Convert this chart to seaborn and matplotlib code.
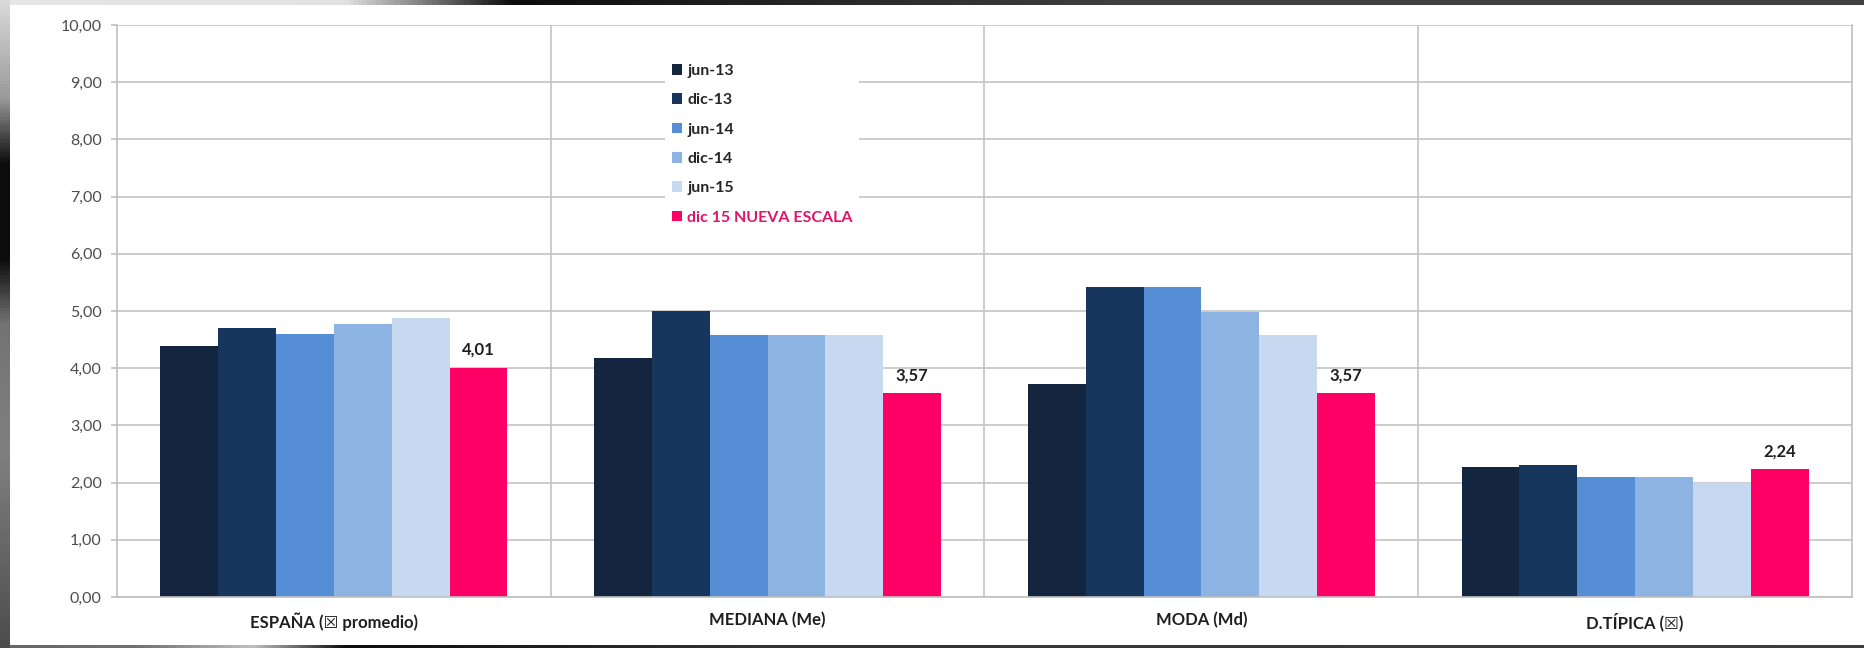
import numpy as np
import pandas as pd
import matplotlib
matplotlib.use("Agg")
import matplotlib.pyplot as plt
import seaborn as sns
from matplotlib.patches import Rectangle

# datos
categorias = ["ESPAÑA (☒ promedio)", "MEDIANA (Me)", "MODA (Md)", "D.TÍPICA (☒)"]
periodos = ["jun-13", "dic-13", "jun-14", "dic-14", "jun-15", "dic 15 NUEVA ESCALA"]
jun13 = [4.38, 4.17, 3.73, 2.28]
dic13 = [4.70, 5.00, 5.42, 2.30]
jun14 = [4.60, 4.58, 5.42, 2.09]
dic14 = [4.78, 4.58, 4.99, 2.10]
jun15 = [4.88, 4.58, 4.58, 2.00]
dic15 = [4.01, 3.57, 3.57, 2.24]
colores = ["#13253f", "#17365d", "#558ed5", "#8db3e2", "#c6d9f1", "#ff0066"]
yticks = [0, 1, 2, 3, 4, 5, 6, 7, 8, 9, 10]

series = [jun13, dic13, jun14, dic14, jun15, dic15]
df = pd.DataFrame({
    "categoria": np.tile(categorias, len(periodos)),
    "periodo": np.repeat(periodos, len(categorias)),
    "valor": np.concatenate(series),
})

sns.set_style("white")
plt.rcParams["font.family"] = ["Lato", "DejaVu Sans"]

fig = plt.figure(figsize=(18.65, 6.48), dpi=100, facecolor="#3c3c3c")

# fondo: marco oscuro alrededor del panel blanco
fig.patches.append(Rectangle((10 / 1865, 3 / 648), 1, 640 / 648, transform=fig.transFigure,
                             facecolor="white", edgecolor="none", zorder=-10))
left_strip = fig.add_axes([0, 0, 10 / 1865, 1])
grad_y = np.interp(np.linspace(0, 1, 200), [0, 0.15, 0.25, 0.4, 0.5, 0.7, 1.0],
                   [0.85, 0.6, 0.05, 0.05, 0.45, 0.5, 0.3])
left_strip.imshow(grad_y[:, None], cmap="gray", vmin=0, vmax=1, aspect="auto")
left_strip.axis("off")
top_strip = fig.add_axes([10 / 1865, 643 / 648, 1 - 10 / 1865, 5 / 648])
grad_x = np.interp(np.linspace(0, 1, 400), [0, 0.18, 0.27, 0.6, 1.0], [0.9, 0.88, 0.05, 0.25, 0.25])
top_strip.imshow(grad_x[None, :], cmap="gray", vmin=0, vmax=1, aspect="auto")
top_strip.axis("off")
bot_strip = fig.add_axes([10 / 1865, 0, 1 - 10 / 1865, 3 / 648])
grad_b = np.interp(np.linspace(0, 1, 400), [0, 0.07, 0.13, 0.18, 0.4, 1.0], [0.4, 0.45, 0.75, 0.05, 0.2, 0.25])
bot_strip.imshow(grad_b[None, :], cmap="gray", vmin=0, vmax=1, aspect="auto")
bot_strip.axis("off")

ax = fig.add_axes([117 / 1865, 51 / 648, 1735 / 1865, 572 / 648])
ax.set_facecolor("white")

sns.barplot(data=df, x="categoria", y="valor", hue="periodo", order=categorias,
            hue_order=periodos, palette=colores, saturation=1, width=0.8,
            errorbar=None, linewidth=0, edgecolor="none", ax=ax)

ax.set_ylim(0, 10)
ax.set_xlim(-0.5, 3.5)
ax.set_yticks(yticks)
ax.set_yticklabels([f"{v:.2f}".replace(".", ",") for v in yticks])
ax.set_xlabel("")
ax.set_ylabel("")

ax.set_xticks([0.5, 1.5, 2.5], minor=True)
ax.set_axisbelow(True)
ax.grid(True, axis="y", color="#c4c4c4", lw=1.2)
ax.grid(True, axis="x", which="minor", color="#c4c4c4", lw=1.2)
ax.grid(False, axis="x", which="major")

for s in ["left", "bottom", "right"]:
    ax.spines[s].set_color("#bfbfbf")
    ax.spines[s].set_linewidth(1.2)
ax.spines["top"].set_visible(False)

ax.tick_params(axis="y", length=4, width=1.2, color="#bfbfbf", pad=7,
               labelsize=11.5, labelcolor="#4d4d4d", left=True)
ax.tick_params(axis="x", which="both", length=0, pad=11, labelsize=12, labelcolor="#1f1f1f")
for t in ax.get_xticklabels():
    t.set_fontweight("bold")

# etiqueta de datos solo en la serie nueva
ult = ax.containers[-1]
ax.bar_label(ult, labels=[f"{v:.2f}".replace(".", ",") for v in dic15], padding=7,
             fontsize=12, fontweight="bold", color="#1f1f1f")

handles, labels = ax.get_legend_handles_labels()
leg = ax.legend(handles, labels, loc="upper left", bbox_to_anchor=(0.316, 0.943),
                borderaxespad=0, frameon=True, facecolor="white", edgecolor="none",
                framealpha=1, fancybox=False, handlelength=0.63, handleheight=0.63,
                handletextpad=0.35, labelspacing=0.96, prop={"size": 11.5, "weight": "bold"})
for txt in leg.get_texts():
    txt.set_color("#262626")
leg.get_texts()[-1].set_color("#e0156a")

fig.savefig("out.png", dpi=100, facecolor=fig.get_facecolor())
